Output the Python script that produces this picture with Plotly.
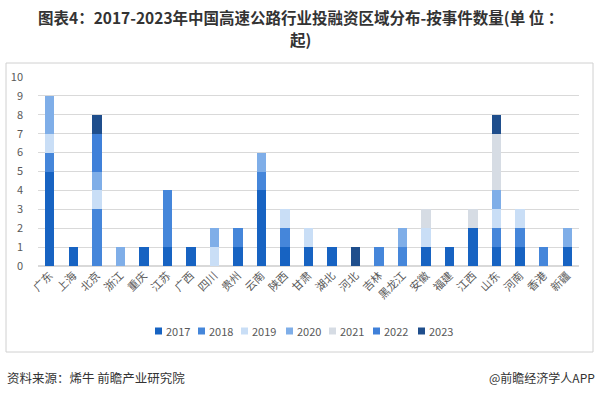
import plotly.graph_objects as go

categories = ['广东','上海','北京','浙江','重庆','江苏','广西','四川','贵州','云南','陕西','甘肃',
              '湖北','河北','吉林','黑龙江','安徽','福建','江西','山东','河南','香港','新疆']
years = ['2017','2018','2019','2020','2021','2022','2023']
v2017 = [5,1,0,0,1,1,1,0,1,4,1,1,1,0,0,0,1,1,2,1,1,0,1]
v2018 = [1,0,3,0,0,3,0,0,1,1,1,0,0,0,1,1,0,0,0,1,1,1,0]
v2019 = [1,0,1,0,0,0,0,1,0,0,1,1,0,0,0,0,1,0,0,1,1,0,0]
v2020 = [2,0,1,1,0,0,0,1,0,1,0,0,0,0,0,1,0,0,0,1,0,0,1]
v2021 = [0,0,0,0,0,0,0,0,0,0,0,0,0,0,0,0,1,0,1,3,0,0,0]
v2022 = [0,0,2,0,0,0,0,0,0,0,0,0,0,0,0,0,0,0,0,0,0,0,0]
v2023 = [0,0,1,0,0,0,0,0,0,0,0,0,0,1,0,0,0,0,0,1,0,0,0]
series = [v2017, v2018, v2019, v2020, v2021, v2022, v2023]
colors = ['#1763C2', '#4586DA', '#C9DEF6', '#7FAEE8', '#D6DCE4', '#3F80D9', '#1F4E8C']
title_lines = ['图表4：2017-2023年中国高速公路行业投融资区域分布-按事件数量(单 位 ：', '起)']

FONT = 'Noto Sans CJK SC, Noto Sans, sans-serif'
W, H = 598, 395
L, R, T, B = 38, 19, 77, 129
PW, PH = W - L - R, H - T - B


def px(x):
    return (x - L) / PW


def py(y):
    return (H - B - y) / PH


fig = go.Figure()
for name, vals, c in zip(years, series, colors):
    fig.add_trace(go.Bar(x=categories, y=vals, name=name, showlegend=False,
                         marker=dict(color=c, line=dict(width=0))))

fig.update_layout(
    width=W, height=H,
    barmode='stack', bargap=0.6,
    paper_bgcolor='white', plot_bgcolor='white',
    margin=dict(l=L, r=R, t=T, b=B, autoexpand=False),
    font=dict(family=FONT, size=11, color='#595959'),
    showlegend=False,
    xaxis=dict(tickangle=-45, showgrid=False, showline=False, ticks='', automargin=False,
               tickfont=dict(size=11, color='#595959')),
    yaxis=dict(range=[0, 10], dtick=1, showgrid=True, gridcolor='#D9D9D9', gridwidth=1,
               zeroline=True, zerolinecolor='#D9D9D9', ticks='', showline=False, automargin=False,
               tickfont=dict(size=11, color='#595959'), ticklabelstandoff=14),
)

# chart frame
fig.add_shape(type='rect', xref='paper', yref='paper',
              x0=px(6), x1=px(593), y0=py(352), y1=py(63),
              line=dict(color='#D0D0D0', width=1), fillcolor='rgba(0,0,0,0)', layer='below')

# title (two lines as in reference)
for line, ty in zip(title_lines, [17, 39]):
    fig.add_annotation(text='<b>' + line + '</b>',
                       xref='paper', yref='paper', x=px(300), y=py(ty), xanchor='center', yanchor='middle',
                       showarrow=False, align='center', borderpad=0,
                       font=dict(family=FONT, size=15.5, color='#333333'))

# legend (manual, compact like reference)
leg_x = [155, 198, 241, 286, 329, 373, 418]
leg_y = 331
for name, c, lx in zip(years, colors, leg_x):
    fig.add_shape(type='rect', xref='paper', yref='paper',
                  x0=px(lx), x1=px(lx + 7), y0=py(leg_y + 3.5), y1=py(leg_y - 3.5),
                  line=dict(width=0), fillcolor=c)
    fig.add_annotation(text=name, xref='paper', yref='paper', x=px(lx + 8.5), y=py(leg_y),
                       xanchor='left', yanchor='middle', showarrow=False,
                       font=dict(family=FONT, size=11, color='#595959'))

# footer
fig.add_annotation(text='资料来源：烯牛 前瞻产业研究院', xref='paper', yref='paper',
                   x=px(5), y=py(377), xanchor='left', yanchor='middle',
                   showarrow=False, font=dict(family=FONT, size=12.5, color='#333333'))
fig.add_annotation(text='@前瞻经济学人APP', xref='paper', yref='paper',
                   x=px(597), y=py(377), xanchor='right', yanchor='middle',
                   showarrow=False, font=dict(family=FONT, size=12, color='#333333'))

fig.write_html('out.html', config={'displayModeBar': False},
               post_script="document.body.style.margin='0';document.body.style.overflow='hidden';")
